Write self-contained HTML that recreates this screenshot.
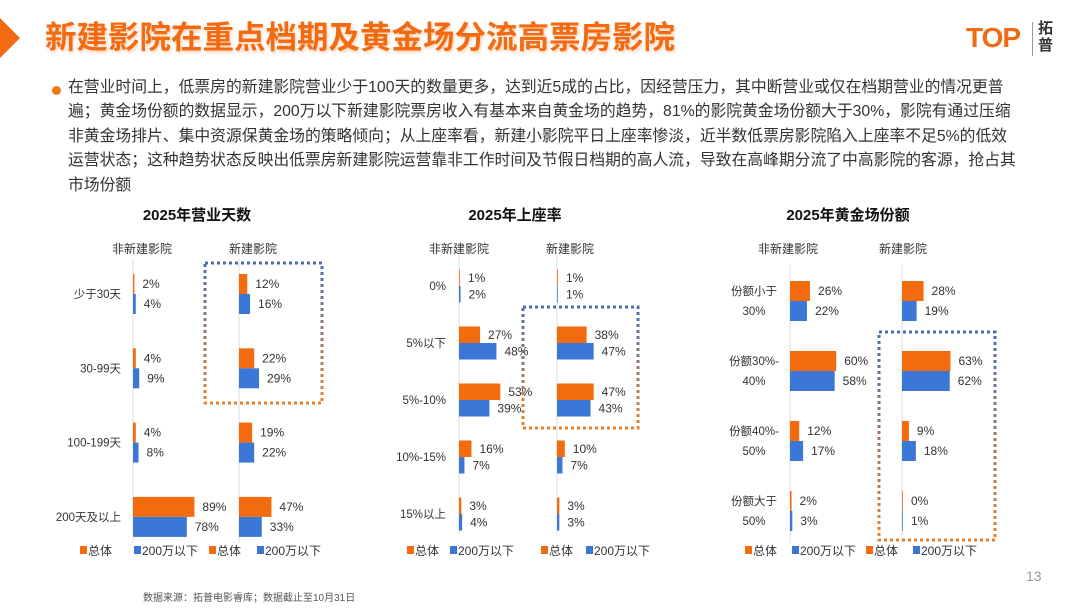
<!DOCTYPE html>
<html><head><meta charset="utf-8">
<style>
body{margin:0;width:1080px;height:608px;background:#fff;overflow:hidden;font-family:"Liberation Sans","Noto Sans CJK SC",sans-serif;position:relative}
.hdr{position:absolute;left:45px;top:17px;font-size:31.5px;line-height:40px;font-weight:bold;color:#F26B12;text-shadow:1px 2px 3px rgba(240,120,40,0.35);white-space:nowrap}
.chev{position:absolute;left:0;top:18px;width:0;height:0;border-top:20px solid transparent;border-bottom:20px solid transparent;border-left:20px solid #F26B12}
.para{position:absolute;left:68px;top:76px;font-size:15.8px;line-height:24.4px;color:#333;white-space:nowrap}
.dot{position:absolute;left:52px;top:86px;width:9px;height:9px;border-radius:50%;background:#F07A1A}
.logo{position:absolute;left:966px;top:22px;font-size:28px;font-weight:bold;color:#F26B12;letter-spacing:-1px}
.logo2{position:absolute;left:1038px;top:20px;font-size:15px;font-weight:bold;color:#333;line-height:17px;width:16px}
.sep{position:absolute;left:1032px;top:22px;width:1px;height:34px;background:#999}
.src{position:absolute;left:143px;top:589px;font-size:10px;color:#555}
.pg{position:absolute;left:1026px;top:568px;font-size:14px;color:#999}
</style></head><body>
<div class="chev"></div>
<div class="hdr">新建影院在重点档期及黄金场分流高票房影院</div>
<div class="logo">TOP</div>
<div class="sep"></div>
<div class="logo2">拓普</div>
<div class="dot"></div>
<div class="para">在营业时间上，低票房的新建影院营业少于100天的数量更多，达到近5成的占比，因经营压力，其中断营业或仅在档期营业的情况更普<br>遍；黄金场份额的数据显示，200万以下新建影院票房收入有基本来自黄金场的趋势，81%的影院黄金场份额大于30%，影院有通过压缩<br>非黄金场排片、集中资源保黄金场的策略倾向；从上座率看，新建小影院平日上座率惨淡，近半数低票房影院陷入上座率不足5%的低效<br>运营状态；这种趋势状态反映出低票房新建影院运营靠非工作时间及节假日档期的高人流，导致在高峰期分流了中高影院的客源，抢占其<br>市场份额</div>
<svg id="charts" width="1080" height="608" style="position:absolute;left:0;top:0">
<defs><linearGradient id="bx" x1="0" y1="0" x2="0" y2="1"><stop offset="0" stop-color="#4A6FB0"/><stop offset="1" stop-color="#E8822A"/></linearGradient></defs>
</svg>
<div class="src">数据来源：拓普电影睿库；数据截止至10月31日</div>
<div class="pg">13</div>
<script>
const c1Categories=["少于30天","30-99天","100-199天","200天及以上"];
const c1OldTotal=[2,4,4,89];
const c1OldSmall=[4,9,8,78];
const c1NewTotal=[12,22,19,47];
const c1NewSmall=[16,29,22,33];
const c2Categories=["0%","5%以下","5%-10%","10%-15%","15%以上"];
const c2OldTotal=[1,27,53,16,3];
const c2OldSmall=[2,48,39,7,4];
const c2NewTotal=[1,38,47,10,3];
const c2NewSmall=[1,47,43,7,3];
const c3Categories=[["份额小于","30%"],["份额30%-","40%"],["份额40%-","50%"],["份额大于","50%"]];
const c3OldTotal=[26,60,12,2];
const c3OldSmall=[22,58,17,3];
const c3NewTotal=[28,63,9,0];
const c3NewSmall=[19,62,18,1];

const NS="http://www.w3.org/2000/svg";
const svg=document.getElementById('charts');
const OR="#F26B0F",BL="#3A77D6";
function mk(tag,attrs,txt){const e=document.createElementNS(NS,tag);for(const k in attrs)e.setAttribute(k,attrs[k]);if(txt!==undefined)e.textContent=txt;svg.appendChild(e);return e;}

function chart(cfg){
  const t=mk('text',{x:cfg.titleX,y:220,'text-anchor':'middle','font-size':15,'font-weight':'bold',fill:'#111'},cfg.title);
  
  
  const h1=mk('text',{x:cfg.hdr[0],y:253,'text-anchor':'middle','font-size':12,fill:'#333'},'非新建影院');
  
  
  const h2=mk('text',{x:cfg.hdr[1],y:253,'text-anchor':'middle','font-size':12,fill:'#333'},'新建影院');
  
  
  cfg.axes.forEach(ax=>{
    const l=mk('line',{x1:ax,x2:ax,y1:cfg.axTop,y2:cfg.axBot,stroke:'#ddd','stroke-width':1});
    
    
  });
  const sx=v=>v*cfg.scale;
  const yc=i=>cfg.y0+i*cfg.step;
  cfg.cats.forEach((c,i)=>{
    const lines=Array.isArray(c)?c:[c];
    lines.forEach((s,k)=>{
      const y=lines.length>1?yc(i)-10+k*20+4:yc(i)+4;
      const tx=mk('text',{x:cfg.catX,y:y,'text-anchor':cfg.catAnchor,'font-size':11.5,fill:'#333'},s);
      
      
    });
  });
  const groups=[[cfg.oldT,cfg.oldS,cfg.axes[0]],[cfg.newT,cfg.newS,cfg.axes[1]]];
  groups.forEach(([T,S,ax])=>{
    [[T,OR,-1],[S,BL,0]].forEach(([arr,col,off])=>{
      arr.forEach((v,i)=>{
        const y=yc(i)+off*cfg.bh;
        const w=Math.max(sx(v),0.8);
        const r=mk('rect',{x:ax,y:y,width:w,height:cfg.bh,fill:col});
        
        
        const lb=mk('text',{x:ax+Math.max(sx(v),1)+8,y:y+cfg.bh/2+4,'font-size':12,fill:'#333'},v+'%');
        
        
      });
    });
  });
  const b=cfg.box;
  const bx=mk('rect',{x:b[0],y:b[1],width:b[2]-b[0],height:b[3]-b[1],fill:'none',stroke:'url(#bx)','stroke-width':3,'stroke-dasharray':'3 3'});
  
  
  const names=['总体','200万以下','总体','200万以下'];
  cfg.leg.forEach((x,k)=>{
    const s=mk('rect',{x:x,y:546,width:7,height:8,fill:k%2?BL:OR});
    
    
    const tx=mk('text',{x:x+8,y:555,'font-size':12,fill:'#333'},names[k]);
    
    
  });
}
chart({title:'2025年营业天数',titleX:197,hdr:[142,253],axes:[133,239],axTop:258,axBot:543,scale:0.69,y0:294,step:74.3,bh:20,
  cats:c1Categories,catX:121,catAnchor:'end',oldT:c1OldTotal,oldS:c1OldSmall,newT:c1NewTotal,newS:c1NewSmall,
  box:[205,263,322,403],leg:[80,134,209,257]});
chart({title:'2025年上座率',titleX:515,hdr:[459,570],axes:[459,557],axTop:255,axBot:533,scale:0.78,y0:286,step:57,bh:16.5,
  cats:c2Categories,catX:446,catAnchor:'end',oldT:c2OldTotal,oldS:c2OldSmall,newT:c2NewTotal,newS:c2NewSmall,
  box:[523,307,638,428],leg:[407,450,541,586]});
chart({title:'2025年黄金场份额',titleX:848,hdr:[788,903],axes:[790,902],axTop:265,axBot:543,scale:0.77,y0:301,step:70,bh:20,
  cats:c3Categories,catX:754,catAnchor:'middle',oldT:c3OldTotal,oldS:c3OldSmall,newT:c3NewTotal,newS:c3NewSmall,
  box:[879,332,995,540],leg:[745,792,866,913]});
</script>
</body></html>
